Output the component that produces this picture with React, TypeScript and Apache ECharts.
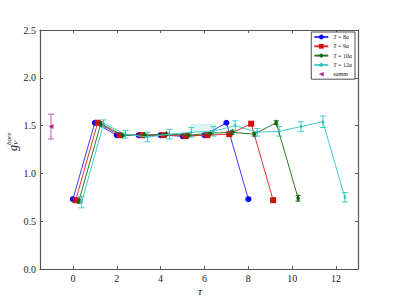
import React, { useEffect, useRef } from "react";
import * as echarts from "echarts";

const seriesNames = ["T = 8a", "T = 9a", "T = 10a", "T = 12a", "summ"];

const blueX = [0, 1, 2, 3, 4, 5, 6, 7, 8];
const blueY = [0.73, 1.53, 1.4, 1.4, 1.4, 1.39, 1.4, 1.53, 0.73];
const blueErr = [0.01, 0.01, 0.01, 0.01, 0.01, 0.01, 0.01, 0.01, 0.01];

const redX = [0.13, 1.13, 2.13, 3.13, 4.13, 5.13, 6.13, 7.13, 8.13, 9.13];
const redY = [0.72, 1.53, 1.4, 1.4, 1.4, 1.39, 1.4, 1.41, 1.52, 0.72];
const redErr = [0.01, 0.01, 0.01, 0.01, 0.01, 0.01, 0.01, 0.01, 0.01, 0.01];

const greenX = [0.27, 1.27, 2.27, 3.27, 4.27, 5.27, 6.27, 7.27, 8.27, 9.27, 10.27];
const greenY = [0.71, 1.52, 1.4, 1.4, 1.41, 1.4, 1.42, 1.43, 1.41, 1.53, 0.74];
const greenErr = [0.02, 0.02, 0.01, 0.01, 0.01, 0.01, 0.01, 0.02, 0.02, 0.02, 0.03];

const cyanX = [0.4, 1.4, 2.4, 3.4, 4.4, 5.4, 6.4, 7.4, 8.4, 9.4, 10.4, 11.4, 12.4];
const cyanY = [0.7, 1.52, 1.41, 1.38, 1.41, 1.43, 1.44, 1.5, 1.43, 1.44, 1.49, 1.54, 0.75];
const cyanErr = [0.06, 0.04, 0.04, 0.05, 0.05, 0.05, 0.05, 0.05, 0.04, 0.05, 0.05, 0.06, 0.05];

const summX = [-1];
const summY = [1.49];
const summErr = [0.13];

const bandX = [5.4, 6.5];
const bandY = [1.44, 1.51];

const xTicks = [0, 2, 4, 6, 8, 10, 12];

const FONT = "'Liberation Serif', 'DejaVu Serif', serif";

function zip(xs: number[], ys: number[], es?: number[]) {
  return xs.map((x, i) => (es ? [x, ys[i], es[i]] : [x, ys[i]]));
}

function errSeries(xs: number[], ys: number[], es: number[], color: string, hw: number) {
  return {
    type: "custom",
    silent: true,
    data: zip(xs, ys, es),
    encode: { x: 0, y: 1 },
    z: 3,
    renderItem: (params: any, api: any) => {
      const x = api.value(0);
      const y = api.value(1);
      const e = api.value(2);
      const top = api.coord([x, y + e]);
      const bot = api.coord([x, y - e]);
      const style = { stroke: color, lineWidth: 1 };
      return {
        type: "group",
        children: [
          { type: "line", shape: { x1: top[0], y1: top[1], x2: bot[0], y2: bot[1] }, style },
          { type: "line", shape: { x1: top[0] - hw, y1: top[1], x2: top[0] + hw, y2: top[1] }, style },
          { type: "line", shape: { x1: bot[0] - hw, y1: bot[1], x2: bot[0] + hw, y2: bot[1] }, style },
        ],
      };
    },
  };
}

export default function App() {
  const ref = useRef<HTMLDivElement>(null);
  useEffect(() => {
    if (!ref.current) return;
    const chart = echarts.init(ref.current, null, { renderer: "svg" });
    const axisLine = { show: true, onZero: false, lineStyle: { color: "#555", width: 1.2 } };
    const tick = { show: true, inside: true, length: 3, lineStyle: { color: "#555" } };
    const option: any = {
      animation: false,
      backgroundColor: "#fff",
      grid: { left: 40, top: 30, right: 41, bottom: 30, containLabel: false },
      xAxis: [
        {
          type: "value",
          min: -1.5,
          max: 13,
          axisLine,
          splitLine: { show: false },
          axisTick: { ...tick, customValues: xTicks },
          axisLabel: { customValues: xTicks, fontFamily: FONT, fontSize: 10, color: "#222", margin: 4 },
        },
        {
          type: "value",
          position: "top",
          min: -1.5,
          max: 13,
          axisLine,
          splitLine: { show: false },
          axisTick: { ...tick, customValues: xTicks },
          axisLabel: { show: false },
        },
      ],
      yAxis: [
        {
          type: "value",
          min: 0,
          max: 2.5,
          interval: 0.5,
          axisLine,
          splitLine: { show: false },
          axisTick: tick,
          axisLabel: {
            fontFamily: FONT,
            fontSize: 10,
            color: "#222",
            margin: 4,
            formatter: (v: number) => v.toFixed(1),
          },
        },
        {
          type: "value",
          position: "right",
          min: 0,
          max: 2.5,
          interval: 0.5,
          axisLine,
          splitLine: { show: false },
          axisTick: tick,
          axisLabel: { show: false },
        },
      ],
      legend: {
        data: seriesNames,
        orient: "vertical",
        right: 44,
        top: 32,
        itemWidth: 14,
        itemHeight: 6,
        itemGap: 3.3,
        padding: [2, 3, 2, 2],
        borderColor: "#222",
        borderWidth: 0.8,
        borderRadius: 0,
        backgroundColor: "#fff",
        textStyle: {
          fontFamily: FONT,
          fontSize: 6,
          color: "#222",
          lineHeight: 6,
          rich: { i: { fontStyle: "italic", fontFamily: FONT, fontSize: 6, color: "#222" } },
        },
        formatter: (name: string) => {
          if (name === "summ") return "summ";
          const parts = name.split(" = ");
          return `{i|T} = ${parts[1].replace("a", "")}{i|a}`;
        },
      },
      graphic: [
        {
          type: "group",
          x: 13,
          y: 151,
          rotation: Math.PI / 2,
          children: [
            { type: "text", x: 0, y: 0, style: { text: "g", font: `italic 12px ${FONT}`, fill: "#222", textVerticalAlign: "middle" } },
            { type: "text", x: 6, y: 3, style: { text: "V", font: `italic 7px ${FONT}`, fill: "#222", textVerticalAlign: "middle" } },
            { type: "text", x: 6, y: -4, style: { text: "bare", font: `italic 7px ${FONT}`, fill: "#222", textVerticalAlign: "middle" } },
          ],
        },
        {
          type: "text",
          x: 200,
          y: 291,
          style: { text: "τ", font: `italic 11px ${FONT}`, fill: "#222", textAlign: "center", textVerticalAlign: "middle" },
        },
      ],
      series: [
        {
          name: "T = 8a",
          type: "line",
          data: zip(blueX, blueY),
          symbol: "circle",
          symbolSize: 6,
          itemStyle: { color: "#0000ff" },
          lineStyle: { color: "#3a3aff", width: 1 },
          z: 2,
        },
        errSeries(blueX, blueY, blueErr, "#0000ff", 2.5),
        {
          name: "T = 9a",
          type: "line",
          data: zip(redX, redY),
          symbol: "rect",
          symbolSize: 6,
          itemStyle: { color: "#cc1111" },
          lineStyle: { color: "#dd3333", width: 1 },
          z: 4,
        },
        errSeries(redX, redY, redErr, "#cc1111", 2.5),
        {
          name: "T = 10a",
          type: "line",
          data: zip(greenX, greenY),
          symbol: "diamond",
          symbolSize: [4, 7],
          itemStyle: { color: "#116611" },
          lineStyle: { color: "#2a7a2a", width: 1 },
          z: 6,
        },
        errSeries(greenX, greenY, greenErr, "#116611", 2.5),
        {
          name: "T = 12a",
          type: "line",
          data: zip(cyanX, cyanY),
          symbol: "diamond",
          symbolSize: [3, 4],
          itemStyle: { color: "#33bbbb" },
          lineStyle: { color: "#44cccc", width: 1 },
          z: 8,
          markArea: {
            silent: true,
            itemStyle: { color: "rgba(68, 204, 204, 0.18)", borderColor: "rgba(68,204,204,0.5)", borderWidth: 0.5 },
            data: [[{ xAxis: bandX[0], yAxis: bandY[0] }, { xAxis: bandX[1], yAxis: bandY[1] }]],
          },
        },
        errSeries(cyanX, cyanY, cyanErr, "#44cccc", 3),
        {
          name: "summ",
          type: "line",
          data: zip(summX, summY),
          symbol: "triangle",
          symbolRotate: 90,
          symbolSize: 5,
          itemStyle: { color: "#b02890" },
          lineStyle: { color: "#c040a0", width: 0 },
          z: 10,
        },
        errSeries(summX, summY, summErr, "#cc55aa", 3),
      ],
    };
    chart.setOption(option);
    return () => chart.dispose();
  }, []);
  return (
    <div
      ref={ref}
      style={{ position: "fixed", left: 0, top: 0, width: 399, height: 299, background: "#fff" }}
    />
  );
}
